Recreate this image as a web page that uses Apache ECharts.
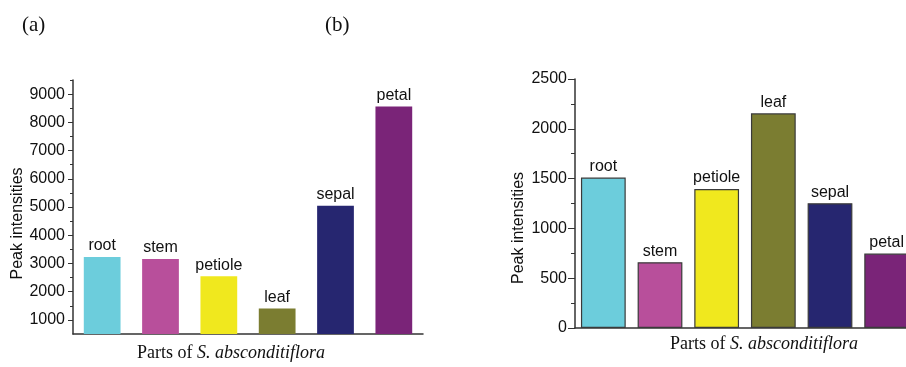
<!DOCTYPE html>
<html><head><meta charset="utf-8">
<script src="https://cdn.jsdelivr.net/npm/echarts@6/dist/echarts.min.js"></script>
<style>html,body{margin:0;padding:0;background:#fff;overflow:hidden;width:906px;height:367px}#c{width:915px;height:367px}</style>
</head><body><div id="c"></div>
<script>
const categories = ['root','stem','petiole','leaf','sepal','petal'];
const valuesA = [3230, 3160, 2550, 1400, 5040, 8560];
const valuesB = [1510, 660, 1395, 2155, 1253, 747];
const majorTicksA = [1000,2000,3000,4000,5000,6000,7000,8000,9000];
const minorTicksA = [1500,2500,3500,4500,5500,6500,7500,8500,9500];
const majorTicksB = [0,500,1000,1500,2000,2500];
const minorTicksB = [250,750,1250,1750,2250];
const colors = ['#6ccddc','#b84f9b','#f0e81e','#7b7d31','#262670','#7a2478'];

const SANS = 'Liberation Sans';
const SERIF = 'Liberation Serif';
const nameRich = {
  n: {fontFamily: SERIF, fontSize: 18, color: '#111'},
  i: {fontFamily: SERIF, fontSize: 18, fontStyle: 'italic', color: '#111'}
};
function mkData(vals, border) {
  return vals.map((v, i) => ({value: v, itemStyle: {color: colors[i], borderColor: border ? '#3a3a3a' : colors[i], borderWidth: border ? 1.2 : 0}}));
}
const plain = v => String(v);
const axisLineStyle = {show: true, lineStyle: {color: '#333', width: 1.5}};
const chart = echarts.init(document.getElementById('c'), null, {renderer: 'canvas', width: 915, height: 367});
chart.setOption({
  animation: false,
  backgroundColor: '#fff',
  title: [
    {text: '(a)', left: 17, top: 10, textStyle: {fontFamily: SERIF, fontSize: 21, fontWeight: 'normal', color: '#111'}},
    {text: '(b)', left: 320, top: 10, textStyle: {fontFamily: SERIF, fontSize: 21, fontWeight: 'normal', color: '#111'}}
  ],
  grid: [
    {left: 73, top: 80, width: 350, bottom: 32},
    {left: 575, top: 79, width: 340, bottom: 39}
  ],
  xAxis: [
    {type: 'category', gridIndex: 0, data: categories, boundaryGap: true,
     axisLine: axisLineStyle, axisTick: {show: false}, axisLabel: {show: false},
     name: '{n|Parts of }{i|S. absconditiflora}', nameLocation: 'middle', nameGap: 10,
     nameTextStyle: {rich: nameRich, padding: [0, 34, 0, 0]}},
    {type: 'category', gridIndex: 1, data: categories, boundaryGap: true,
     axisLine: axisLineStyle, axisTick: {show: false}, axisLabel: {show: false},
     name: '{n|Parts of }{i|S. absconditiflora}', nameLocation: 'middle', nameGap: 7,
     nameTextStyle: {rich: nameRich, padding: [0, 0, 0, 38]}}
  ],
  yAxis: [
    {type: 'value', gridIndex: 0, min: 500, max: 9500, interval: 500, splitLine: {show: false},
     axisLine: axisLineStyle,
     axisTick: {show: true, inside: false, length: 5, customValues: majorTicksA, lineStyle: {color: '#333'}},
     axisLabel: {customValues: majorTicksA, formatter: plain, fontFamily: SANS, fontSize: 16, color: '#111', margin: 8},
     name: 'Peak intensities', nameLocation: 'middle', nameGap: 46,
     nameTextStyle: {fontFamily: SANS, fontSize: 16, color: '#111', padding: [0, 33, 0, 0]}},
    {type: 'value', gridIndex: 0, min: 500, max: 9500, interval: 500, position: 'left', splitLine: {show: false},
     axisLine: {show: false},
     axisTick: {show: true, length: 3, customValues: minorTicksA, lineStyle: {color: '#333'}},
     axisLabel: {show: false}},
    {type: 'value', gridIndex: 1, min: 0, max: 2500, interval: 250, splitLine: {show: false},
     axisLine: axisLineStyle,
     axisTick: {show: true, length: 7, customValues: majorTicksB, lineStyle: {color: '#333'}},
     axisLabel: {customValues: majorTicksB, formatter: plain, fontFamily: SANS, fontSize: 16, color: '#111', margin: 8},
     name: 'Peak intensities', nameLocation: 'middle', nameGap: 48,
     nameTextStyle: {fontFamily: SANS, fontSize: 16, color: '#111', padding: [0, 49, 0, 0]}},
    {type: 'value', gridIndex: 1, min: 0, max: 2500, interval: 250, position: 'left', splitLine: {show: false},
     axisLine: {show: false},
     axisTick: {show: true, length: 4, customValues: minorTicksB, lineStyle: {color: '#333'}},
     axisLabel: {show: false}}
  ],
  series: [
    {type: 'bar', xAxisIndex: 0, yAxisIndex: 0, barWidth: '63%', data: mkData(valuesA, false),
     label: {show: true, position: 'top', distance: 3, formatter: '{b}', fontFamily: SANS, fontSize: 16, color: '#111'}},
    {type: 'bar', xAxisIndex: 1, yAxisIndex: 2, barWidth: '79%', data: mkData(valuesB, true),
     label: {show: true, position: 'top', distance: 3, formatter: '{b}', fontFamily: SANS, fontSize: 16, color: '#111'}}
  ]
});
</script></body></html>
